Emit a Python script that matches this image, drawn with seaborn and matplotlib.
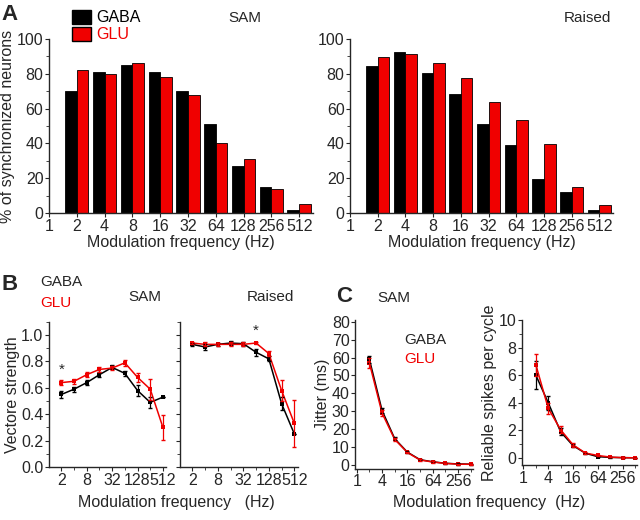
import numpy as np
import pandas as pd
import matplotlib.pyplot as plt
import seaborn as sns
from matplotlib.patches import Patch
from matplotlib.ticker import MultipleLocator, NullFormatter

sns.set_style('ticks')
plt.rcParams['font.family'] = ['Liberation Sans', 'DejaVu Sans']
plt.rcParams['font.size'] = 11
plt.rcParams['xtick.labelsize'] = 11.5
plt.rcParams['ytick.labelsize'] = 11.5
plt.rcParams['axes.linewidth'] = 1.0

RED = '#f00000'
pal = {'GABA': 'black', 'GLU': RED}

# Panel A: % synchronized neurons
bar_freqs = ['2', '4', '8', '16', '32', '64', '128', '256', '512']
sam_gaba = [70, 81, 85, 81, 70, 51, 27, 15, 2]
sam_glu = [82, 80, 86, 78, 68, 40, 31, 14, 5]
raised_gaba = [84.5, 92.3, 80.5, 68.6, 51, 39.3, 19.5, 11.9, 2]
raised_glu = [89.7, 91.6, 86.4, 77.6, 63.6, 53.4, 39.5, 15.1, 4.8]

# Panel B: vector strength
freqs = [2, 4, 8, 16, 32, 64, 128, 256, 512]
vs_sam_gaba = [0.55, 0.59, 0.64, 0.70, 0.755, 0.71, 0.58, 0.49, 0.53]
vs_sam_gaba_err = [0.03, 0.02, 0.02, 0.02, 0.015, 0.02, 0.04, 0.04, 0.0]
vs_sam_glu = [0.64, 0.65, 0.70, 0.74, 0.75, 0.79, 0.68, 0.59, 0.30]
vs_sam_glu_err = [0.02, 0.02, 0.02, 0.02, 0.015, 0.025, 0.035, 0.08, 0.095]
vs_raised_gaba = [0.93, 0.91, 0.93, 0.94, 0.935, 0.87, 0.82, 0.48, 0.25]
vs_raised_gaba_err = [0.01, 0.02, 0.01, 0.015, 0.015, 0.025, 0.02, 0.05, 0.0]
vs_raised_glu = [0.94, 0.93, 0.93, 0.93, 0.93, 0.94, 0.86, 0.58, 0.33]
vs_raised_glu_err = [0.01, 0.015, 0.01, 0.015, 0.015, 0.01, 0.02, 0.08, 0.18]

# Panel C: jitter and reliable spikes (SAM)
jit_gaba = [59, 30.5, 14.7, 7.2, 3.0, 1.8, 1.0, 0.6, 0.5]
jit_gaba_err = [2.0, 1.5, 0.8, 0.5, 0.4, 0.3, 0.3, 0.3, 0.3]
jit_glu = [57, 29, 14.3, 7.0, 2.8, 1.7, 0.9, 0.5, 0.4]
jit_glu_err = [3.0, 1.5, 0.8, 0.5, 0.4, 0.3, 0.3, 0.3, 0.3]
rel_gaba = [6.0, 4.0, 1.9, 0.9, 0.35, 0.1, 0.05, 0.03, 0.02]
rel_gaba_err = [1.0, 0.5, 0.25, 0.1, 0.05, 0.05, 0.02, 0.02, 0.02]
rel_glu = [6.75, 3.6, 2.05, 0.96, 0.36, 0.19, 0.07, 0.03, 0.02]
rel_glu_err = [0.8, 0.4, 0.25, 0.15, 0.05, 0.05, 0.02, 0.02, 0.02]

fig = plt.figure(figsize=(6.4, 5.2), dpi=100)


def bar_panel(rect, gaba, glu, title, title_x):
    ax = fig.add_axes(rect)
    df = pd.DataFrame({'freq': bar_freqs * 2,
                       'group': ['GABA'] * 9 + ['GLU'] * 9,
                       'pct': gaba + glu})
    sns.barplot(data=df, x='freq', y='pct', hue='group', order=bar_freqs,
                palette=pal, saturation=1, width=0.84, edgecolor='black',
                linewidth=0.6, ax=ax, legend=False)
    ax.set_xticks(range(-1, 9))
    ax.set_xticklabels(['1'] + bar_freqs)
    ax.set_xlim(-1, 8.5)
    ax.set_ylim(0, 100)
    ax.yaxis.set_major_locator(MultipleLocator(20))
    ax.yaxis.set_minor_locator(MultipleLocator(10))
    ax.set_xlabel('Modulation frequency (Hz)', fontsize=11.5, labelpad=1)
    ax.set_ylabel('')
    ax.tick_params(axis='both', pad=1, length=3)
    ax.tick_params(which='minor', length=2)
    sns.despine(ax=ax)
    fig.text(title_x, 0.965, title, fontsize=11, ha='center', va='center')
    return ax


axA1 = bar_panel([0.0766, 0.5904, 0.4125, 0.3346], sam_gaba, sam_glu, 'SAM', 0.383)
axA1.set_ylabel('% of synchronized neurons', fontsize=11.5, labelpad=1)
bar_panel([0.547, 0.5904, 0.411, 0.3346], raised_gaba, raised_glu, 'Raised', 0.918)

fig.legend(handles=[Patch(facecolor='black', edgecolor='black'),
                    Patch(facecolor=RED, edgecolor='black')],
           labels=['GABA', 'GLU'], labelcolor=['black', RED],
           loc='upper left', bbox_to_anchor=(0.098, 1.0), frameon=False,
           fontsize=11.5, handlelength=1.2, handleheight=1.0,
           handletextpad=0.3, labelspacing=0.1, borderaxespad=0.2)


def line_panel(rect, gaba, gaba_err, glu, glu_err):
    ax = fig.add_axes(rect)
    df = pd.DataFrame({'freq': freqs * 2,
                       'group': ['GABA'] * 9 + ['GLU'] * 9,
                       'val': gaba + glu})
    sns.lineplot(data=df, x='freq', y='val', hue='group', palette=pal,
                 marker='s', markersize=3, markeredgewidth=0, linewidth=1.1,
                 errorbar=None, ax=ax, legend=False)
    ax.errorbar(freqs, gaba, yerr=gaba_err, fmt='none', ecolor='black',
                elinewidth=0.9, capsize=1.5)
    ax.errorbar(freqs, glu, yerr=glu_err, fmt='none', ecolor=RED,
                elinewidth=0.9, capsize=1.5)
    ax.set_xscale('log', base=2)
    ax.set_xlabel('')
    ax.set_ylabel('')
    ax.tick_params(axis='both', pad=1, length=3)
    ax.tick_params(which='minor', length=2)
    sns.despine(ax=ax)
    return ax


# Panel B
for rect, g, ge, r, re_, ttl, tx in [
        ([0.0766, 0.1019, 0.183, 0.279], vs_sam_gaba, vs_sam_gaba_err,
         vs_sam_glu, vs_sam_glu_err, 'SAM', 0.227),
        ([0.281, 0.1019, 0.184, 0.279], vs_raised_gaba, vs_raised_gaba_err,
         vs_raised_glu, vs_raised_glu_err, 'Raised', 0.422)]:
    ax = line_panel(rect, g, ge, r, re_)
    ax.set_xlim(1.02, 610)
    ax.set_xticks([2, 8, 32, 128, 512])
    ax.set_xticklabels(['2', '8', '32', '128', '512'])
    ax.set_xticks([4, 16, 64, 256], minor=True)
    ax.xaxis.set_minor_formatter(NullFormatter())
    ax.set_ylim(0, 1.1)
    ax.yaxis.set_major_locator(MultipleLocator(0.2))
    ax.yaxis.set_minor_locator(MultipleLocator(0.1))
    fig.text(tx, 0.428, ttl, fontsize=11, ha='center', va='center')
    if ttl == 'SAM':
        ax.set_yticks(np.arange(0, 1.01, 0.2))
        ax.set_yticklabels([f'{v:.1f}' for v in np.arange(0, 1.01, 0.2)])
        ax.set_ylabel('Vectore strength', fontsize=11.5, labelpad=1)
        ax.text(2, 0.74, '*', ha='center', va='center', fontsize=11)
    else:
        ax.set_yticklabels([])
        ax.text(64, 1.03, '*', ha='center', va='center', fontsize=11)

fig.text(0.063, 0.457, 'GABA', fontsize=11, ha='left', va='center')
fig.text(0.063, 0.418, 'GLU', fontsize=11, ha='left', va='center', color=RED)
fig.text(0.275, 0.033, 'Modulation frequency   (Hz)', fontsize=11.5,
         ha='center', va='center')

# Panel C
axC1 = line_panel([0.555, 0.0988, 0.184, 0.286], jit_gaba, jit_gaba_err,
                  jit_glu, jit_glu_err)
axC1.set_ylim(-2, 81)
axC1.yaxis.set_major_locator(MultipleLocator(10))
axC1.set_ylabel('Jitter (ms)', fontsize=11.5, labelpad=1)
axC1.text(0.42, 0.84, 'GABA', transform=axC1.transAxes, fontsize=11)
axC1.text(0.42, 0.71, 'GLU', transform=axC1.transAxes, fontsize=11, color=RED)

axC2 = line_panel([0.8156, 0.1058, 0.18, 0.279], rel_gaba, rel_gaba_err,
                  rel_glu, rel_glu_err)
axC2.set_ylim(-0.5, 10)
axC2.yaxis.set_major_locator(MultipleLocator(2))
axC2.yaxis.set_minor_locator(MultipleLocator(1))
axC2.set_ylabel('Reliable spikes per cycle', fontsize=11.5, labelpad=1)

for ax in (axC1, axC2):
    ax.set_xlim(0.92, 580)
    ax.set_xticks([1, 4, 16, 64, 256])
    ax.set_xticklabels(['1', '4', '16', '64', '256'])
    ax.set_xticks([2, 8, 32, 128, 512], minor=True)
    ax.xaxis.set_minor_formatter(NullFormatter())

fig.text(0.615, 0.427, 'SAM', fontsize=11, ha='center', va='center')
fig.text(0.765, 0.033, 'Modulation frequency  (Hz)', fontsize=11.5,
         ha='center', va='center')

# panel letters
fig.text(0.003, 0.972, 'A', fontsize=16, fontweight='bold', va='center')
fig.text(0.003, 0.452, 'B', fontsize=16, fontweight='bold', va='center')
fig.text(0.525, 0.43, 'C', fontsize=16, fontweight='bold', va='center')

fig.savefig('out.png', dpi=100)
